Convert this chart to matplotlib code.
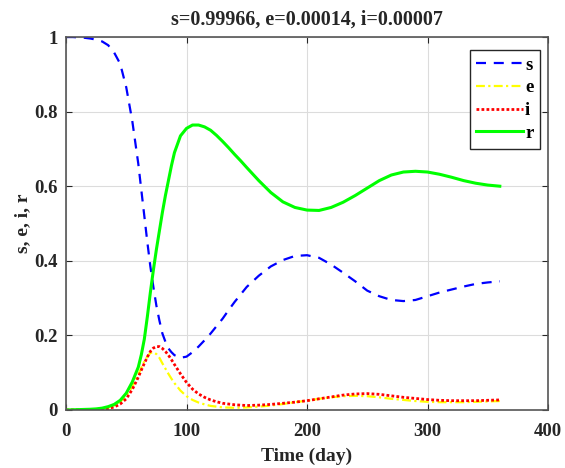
import matplotlib
matplotlib.use("Agg")
import matplotlib.pyplot as plt

t = [0, 5, 10, 15, 20, 25, 30, 35, 40, 45, 50, 55, 60, 62.5, 65, 67.5, 70, 72.5, 75,
     77.5, 80, 82.5, 85, 87.5, 90, 95, 100, 105, 110, 115, 120, 125, 130, 135, 140,
     145, 150, 160, 170, 180, 190, 200, 210, 220, 230, 240, 250, 260, 270, 280, 290,
     300, 310, 320, 330, 340, 350, 360]

s = [1.0, 1.0, 0.999, 0.998, 0.996, 0.993, 0.988, 0.978, 0.958, 0.928, 0.865, 0.775,
     0.66, 0.59, 0.52, 0.45, 0.385, 0.33, 0.28,
     0.24, 0.205, 0.183, 0.165, 0.155, 0.147, 0.14, 0.143, 0.155, 0.17, 0.187, 0.205,
     0.225, 0.245, 0.268, 0.29,
     0.31, 0.33, 0.36, 0.385, 0.402, 0.413, 0.415, 0.408, 0.39, 0.368, 0.345, 0.32,
     0.305, 0.295, 0.292, 0.295, 0.305, 0.315, 0.323, 0.331, 0.338, 0.342, 0.345]

e = [0.0, 0.0001, 0.0003, 0.0006, 0.001, 0.002, 0.003, 0.006, 0.012, 0.022, 0.038,
     0.062, 0.095, 0.113, 0.13, 0.143, 0.153, 0.155, 0.15,
     0.14, 0.125, 0.111, 0.097, 0.084, 0.072, 0.052, 0.037, 0.027, 0.02, 0.015, 0.011,
     0.009, 0.007, 0.0065, 0.006,
     0.0063, 0.007, 0.009, 0.012, 0.016, 0.021, 0.025, 0.03, 0.034, 0.037, 0.038, 0.037,
     0.034, 0.03, 0.027, 0.024, 0.022, 0.021, 0.021, 0.021, 0.022, 0.023, 0.024]

i = [0.0, 0.0001, 0.0002, 0.0004, 0.0007, 0.0012, 0.002, 0.004, 0.008, 0.016, 0.03,
     0.055, 0.088, 0.107, 0.125, 0.142, 0.157, 0.166, 0.17,
     0.17, 0.165, 0.157, 0.147, 0.135, 0.122, 0.097, 0.074, 0.056, 0.043, 0.034, 0.027,
     0.022, 0.018, 0.016, 0.014,
     0.013, 0.012, 0.013, 0.015, 0.018, 0.021, 0.025, 0.03, 0.035, 0.04, 0.043, 0.044,
     0.042, 0.038, 0.034, 0.031, 0.028, 0.026, 0.025, 0.025, 0.025, 0.026, 0.027]

r = [0.0, 0.0005, 0.001, 0.0015, 0.002, 0.003, 0.005, 0.009, 0.015, 0.026, 0.045,
     0.075, 0.115, 0.148, 0.19, 0.25, 0.315, 0.375, 0.43,
     0.48, 0.53, 0.575, 0.615, 0.655, 0.69, 0.735, 0.755, 0.764, 0.764, 0.759, 0.75,
     0.736, 0.72, 0.703, 0.685,
     0.668, 0.65, 0.615, 0.583, 0.558, 0.543, 0.536, 0.535, 0.543, 0.557, 0.575, 0.595,
     0.615, 0.63, 0.638, 0.64, 0.638, 0.632, 0.624, 0.615, 0.608, 0.603, 0.60]

title = "s=0.99966, e=0.00014, i=0.00007"
xticks = [0, 100, 200, 300, 400]
yticks = [0, 0.2, 0.4, 0.6, 0.8, 1.0]
ytick_labels = ["0", "0.2", "0.4", "0.6", "0.8", "1"]

plt.rcParams['font.family'] = ['Liberation Serif', 'DejaVu Serif']
plt.rcParams['font.weight'] = 'bold'

fig = plt.figure(figsize=(5.65, 4.68), dpi=100)
ax = fig.add_axes([66/565, 1 - 410/468, (548 - 66)/565, (410 - 37)/468])

ax.plot(t, s, color='#0000ff', linestyle=(0, (4.5, 3.5)), linewidth=1.6, label='s')
ax.plot(t, e, color='#ffff00', linestyle=(0, (4, 1.5, 1, 1.5)), linewidth=1.6, label='e')
ax.plot(t, i, color='#ff0000', linestyle=(0, (1, 0.8)), linewidth=2.0, label='i')
ax.plot(t, r, color='#00ff00', linestyle='-', linewidth=2.2, label='r')

ax.set_xlim(0, 400)
ax.set_ylim(0, 1)
ax.set_xticks(xticks)
ax.set_yticks(yticks)
ax.set_yticklabels(ytick_labels)
ax.grid(True, color='#dcdcdc', linewidth=0.8)
ax.set_axisbelow(True)
ax.tick_params(direction='in', top=True, right=True, length=4, width=0.8,
               colors='#262626', labelsize=13.5)
ax.tick_params(axis='x', pad=9)
ax.tick_params(axis='y', pad=6)
for lab in ax.get_xticklabels() + ax.get_yticklabels():
    lab.set_fontweight('bold')
    lab.set_color('#262626')
for sp in ax.spines.values():
    sp.set_color('#555555')
    sp.set_linewidth(1.2)

ax.set_xlabel('Time (day)', fontsize=14, fontweight='bold', color='#262626', labelpad=6)
ax.set_ylabel('s, e, i, r', fontsize=14, fontweight='bold', color='#262626', labelpad=2)
ax.set_title(title, fontsize=14.5, fontweight='bold', color='#262626', pad=9)

leg = ax.legend(loc='upper right', bbox_to_anchor=(1 - 8/482, 1 - 13/373), fontsize=13.5,
                handlelength=2.5, handletextpad=0.1, borderpad=0.35, labelspacing=0.3,
                fancybox=False, edgecolor='#262626', framealpha=1, borderaxespad=0.0)
leg.get_frame().set_linewidth(1.0)
for txt in leg.get_texts():
    txt.set_fontweight('bold')

fig.savefig('out.png', dpi=100)
